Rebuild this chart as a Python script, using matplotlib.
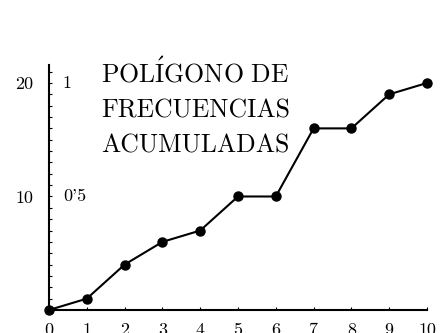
import matplotlib
matplotlib.use('Agg')
import matplotlib.pyplot as plt
from matplotlib.ticker import FixedLocator

plt.rcParams['font.family'] = 'cmr10'
plt.rcParams['mathtext.fontset'] = 'cm'
plt.rcParams['axes.formatter.use_mathtext'] = True

# cumulative frequencies
x_vals = [0, 1, 2, 3, 4, 5, 6, 7, 8, 9, 10]
cum_freq = [0, 1, 4, 6, 7, 10, 10, 16, 16, 19, 20]
x_ticks = list(range(0, 11))
y_ticks = [10, 20]
y_minor = list(range(1, 22))
rel_labels = ["0'5", "1"]
title_lines = [r'$\mathrm{POL\acute{I}GONO\ DE}$', 'FRECUENCIAS', 'ACUMULADAS']

fig = plt.figure(figsize=(4.47, 3.33), dpi=100)
ax = fig.add_axes([0, 0, 1, 1])
ax.set_xlim(-1.296, 10.529)
ax.set_ylim(-2.026, 27.31)

ax.plot(x_vals, cum_freq, color='black', lw=1.5, marker='o', ms=6.5,
        clip_on=False, zorder=5)

for s in ['top', 'right']:
    ax.spines[s].set_visible(False)
ax.spines['left'].set_position(('data', 0))
ax.spines['bottom'].set_position(('data', 0))
ax.spines['left'].set_bounds(0, 21.6)
ax.spines['bottom'].set_bounds(0, 10)
ax.spines['left'].set_linewidth(1.5)
ax.spines['bottom'].set_linewidth(1.5)

ax.set_xticks(x_ticks)
ax.set_xticklabels([str(v) for v in x_ticks])
ax.set_yticks(y_ticks)
ax.set_yticklabels([str(v) for v in y_ticks])
ax.yaxis.set_minor_locator(FixedLocator(y_minor))
ax.tick_params(axis='x', direction='in', length=2.5, width=0.8, pad=9, labelsize=13)
ax.tick_params(axis='y', which='major', direction='in', length=2.5, width=0.8,
               pad=11, labelsize=13)
ax.tick_params(axis='y', which='minor', direction='in', length=2.5, width=0.8)

for yv, lab in zip(y_ticks, rel_labels):
    ax.text(0.37, yv, lab, ha='left', va='center', fontsize=13)

for i, line in enumerate(title_lines):
    ax.text(1.376, 20.0 - i * 3.08, line, ha='left', va='baseline', fontsize=18.5)

fig.savefig('out.png', dpi=100, facecolor='white')
